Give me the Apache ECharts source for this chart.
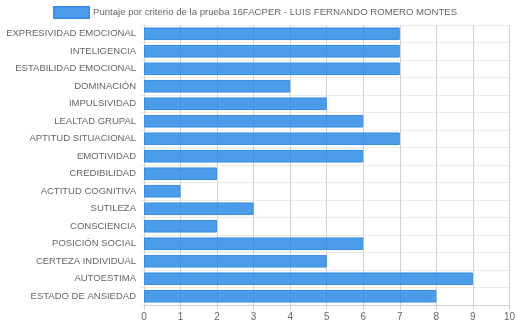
<!DOCTYPE html>
<html>
<head>
<meta charset="utf-8">
<script src="https://cdn.jsdelivr.net/npm/echarts@6/dist/echarts.min.js"></script>
<style>
  html, body { margin: 0; padding: 0; background: #fff; }
  #chart { width: 518px; height: 328px; }
</style>
</head>
<body>
<div id="chart"></div>
<script>
// Factor names, listed top to bottom
const categories = [
  'EXPRESIVIDAD EMOCIONAL', 'INTELIGENCIA', 'ESTABILIDAD EMOCIONAL', 'DOMINACIÓN',
  'IMPULSIVIDAD', 'LEALTAD GRUPAL', 'APTITUD SITUACIONAL', 'EMOTIVIDAD',
  'CREDIBILIDAD', 'ACTITUD COGNITIVA', 'SUTILEZA', 'CONSCIENCIA',
  'POSICIÓN SOCIAL', 'CERTEZA INDIVIDUAL', 'AUTOESTIMA', 'ESTADO DE ANSIEDAD'
];
// Score per factor
const scores = [7, 7, 7, 4, 5, 6, 7, 6, 2, 1, 3, 2, 6, 5, 9, 8];
const seriesName = 'Puntaje por criterio de la prueba 16FACPER - LUIS FERNANDO ROMERO MONTES';
const xMin = 0, xMax = 10, xStep = 1;

const font = 'Liberation Sans, Arial, Helvetica, sans-serif';
const chart = echarts.init(document.getElementById('chart'), null, { renderer: 'canvas' });

chart.setOption({
  animation: false,
  textStyle: { fontFamily: font },
  legend: {
    top: 6,
    left: 53,
    padding: 0,
    icon: 'rect',
    itemWidth: 35,
    itemHeight: 11,
    itemGap: 4,
    textStyle: { color: '#666', fontSize: 9.6, fontFamily: font, padding: [0, 0, 0, -1] },
    data: [seriesName]
  },
  grid: { left: 144, right: 7, top: 25, bottom: 23, containLabel: false },
  xAxis: {
    type: 'value',
    min: xMin, max: xMax, interval: xStep,
    axisLine: { show: true, lineStyle: { color: '#cfcfcf', width: 1 } },
    axisTick: { show: true, length: 5, lineStyle: { color: '#cfcfcf' } },
    axisLabel: { color: '#666', fontSize: 10, margin: 7, fontFamily: font },
    splitLine: { show: true, lineStyle: { color: '#d2d2d2', width: 1 } }
  },
  yAxis: {
    type: 'category',
    inverse: true,
    data: categories,
    axisLine: { show: true, lineStyle: { color: '#d2d2d2' } },
    axisTick: { show: true, length: 4, lineStyle: { color: '#ececec' } },
    axisLabel: { color: '#666', fontSize: 9.5, margin: 8, fontFamily: font },
    splitLine: { show: true, lineStyle: { color: '#ececec', width: 1 } }
  },
  series: [{
    name: seriesName,
    type: 'bar',
    data: scores,
    barCategoryGap: '28%',
    itemStyle: {
      color: 'rgba(38,134,229,0.82)',
      borderColor: '#3a8ee6',
      borderWidth: 1
    }
  }]
});
</script>
</body>
</html>
